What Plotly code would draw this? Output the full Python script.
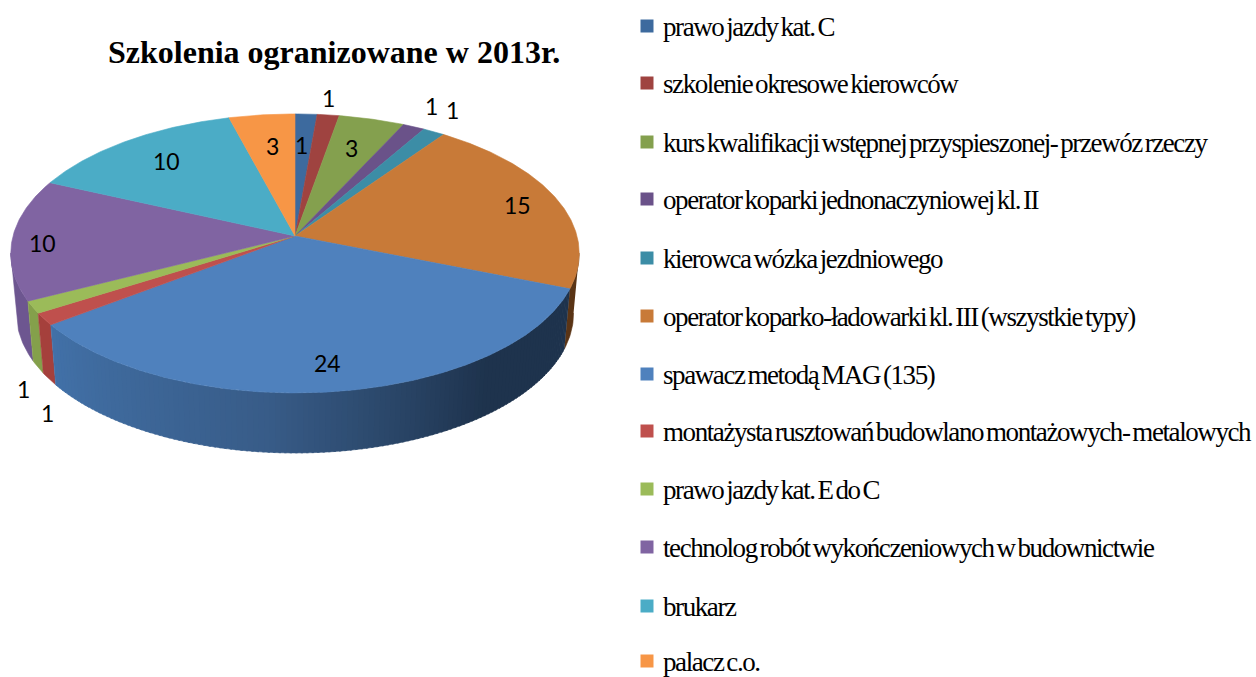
import numpy as np
import plotly.graph_objects as go

categories = [
    "prawo jazdy kat. C",
    "szkolenie okresowe kierowców",
    "kurs kwalifikacji wstępnej przyspieszonej- przewóz rzeczy",
    "operator koparki jednonaczyniowej kl. II",
    "kierowca wózka jezdniowego",
    "operator koparko-ładowarki kl. III (wszystkie typy)",
    "spawacz metodą MAG (135)",
    "montażysta rusztowań budowlano montażowych- metalowych",
    "prawo jazdy kat. E do C",
    "technolog robót wykończeniowych w budownictwie",
    "brukarz",
    "palacz c.o.",
]
values = [1, 1, 3, 1, 1, 15, 24, 1, 1, 10, 10, 3]
top_colors = ["#3d6a9e", "#9f4340", "#84a04e", "#6a5289", "#3c8da6", "#c87a38",
              "#4f81bd", "#bf504d", "#9bbb59", "#8064a2", "#4bacc6", "#f79646"]
side_colors = ["#345a86", "#8a3a37", "#748c44", "#5c4777", "#347b90", "#5a3415",
               "#3f6a9c", "#a5403c", "#84a04b", "#6d5690", "#3f93a9", "#d27f3b"]
title = "Szkolenia ogranizowane w 2013r."
label_xy = [(301, 145), (328, 98), (351, 148), (431, 106), (452, 110), (517, 205),
            (327, 363), (47, 413), (23, 389), (42, 243), (166, 161), (272, 146)]
legend_y = [27, 84, 143, 200, 259, 317, 375, 432, 490, 548, 607, 662]

CX, CY, R, B, K, DEPTH = 295, 236, 282, 137.3, 0.125, 60


def rim(theta_deg):
    t = np.radians(theta_deg)
    u, v = np.sin(t), -np.cos(t)
    d = 1 - K * v
    return CX + R * u / d, CY + B * v / d


def rim_low(theta_deg):
    x, y = rim(theta_deg)
    return CX + (x - CX) * 0.98, y + DEPTH


def poly(fig, xs, ys, color):
    fig.add_trace(go.Scatter(x=xs, y=ys, mode="lines", fill="toself", fillcolor=color,
                             line=dict(color=color, width=0.6), hoverinfo="skip",
                             showlegend=False))


def side(fig, a, b, color):
    th = np.linspace(a, b, max(2, int(abs(b - a)) + 2))
    x1, y1 = rim(th)
    x2, y2 = rim_low(th[::-1])
    poly(fig, list(x1) + list(x2), list(y1) + list(y2), color)


def lerp_hex(c1, c2, f):
    return "rgb(%d,%d,%d)" % tuple(round(a + (b - a) * f) for a, b in zip(c1, c2))


fig = go.Figure()
edges = np.cumsum([0] + values) / sum(values) * 360
VIS_A, VIS_B = 97, 263

# side wall, back to front
for i in [5, 9, 8, 7]:
    a, b = max(edges[i], VIS_A), min(edges[i + 1], VIS_B)
    side(fig, a, b, side_colors[i])
# blue slice wall has a gradient from light (left) to dark (right)
a6, b6 = edges[6], edges[7]
steps = np.arange(a6, b6, 1.0)
light, mid, dark = (66, 113, 168), (56, 92, 136), (30, 51, 77)
for s in steps:
    e = min(s + 1.4, b6)
    f = (b6 - s) / (b6 - a6)
    if f < 0.4:
        col = lerp_hex(light, mid, f / 0.4)
    elif f < 0.75:
        col = lerp_hex(mid, dark, (f - 0.4) / 0.35)
    else:
        col = lerp_hex(dark, dark, 0)
    side(fig, s, e, col)

# top face
for i in range(len(values)):
    th = np.linspace(edges[i], edges[i + 1], max(3, int(edges[i + 1] - edges[i]) * 2))
    x, y = rim(th)
    poly(fig, [CX] + list(x) + [CX], [CY] + list(y) + [CY], top_colors[i])

# legend swatches
fig.add_trace(go.Scatter(x=[647] * len(categories), y=[ly - 1 for ly in legend_y], mode="markers",
                         marker=dict(symbol="square", size=13, color=top_colors, line_width=0),
                         hoverinfo="skip", showlegend=False))

ann = [dict(x=334, y=52, text=f"<b>{title}</b>", showarrow=False, xanchor="center", yanchor="middle",
            font=dict(family="Liberation Serif", size=32, color="#000"))]
for v, (lx, ly) in zip(values, label_xy):
    ann.append(dict(x=lx, y=ly, text=str(v), showarrow=False, xanchor="center", yanchor="middle",
                    font=dict(family="Lato", size=23, color="#000")))
for c, ly in zip(categories, legend_y):
    ann.append(dict(x=661, y=ly, text=c, showarrow=False, xanchor="left", yanchor="middle", align="left",
                    font=dict(family="Liberation Serif", size=27, color="#000")))

fig.update_layout(width=1256, height=677, margin=dict(l=0, r=0, t=0, b=0), autosize=False,
                  paper_bgcolor="white", plot_bgcolor="white", showlegend=False,
                  xaxis=dict(range=[0, 1256], visible=False, fixedrange=True),
                  yaxis=dict(range=[677, 0], visible=False, fixedrange=True),
                  annotations=ann)

post = """
document.body.style.margin='0';
document.querySelectorAll('.annotation-text').forEach(function(t){
  if (t.style.fontSize==='27px' || t.style.fontSize==='27') {
    t.style.letterSpacing='-1.41px'; t.style.wordSpacing='-2.5px';
  }
});
"""
fig.write_html("out.html", post_script=post, config={"displayModeBar": False})
